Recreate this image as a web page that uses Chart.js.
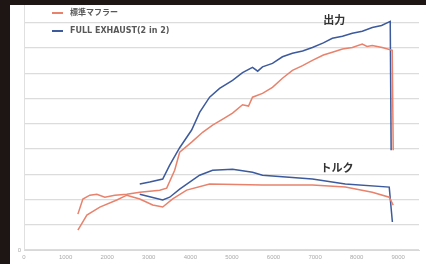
<!DOCTYPE html>
<html><head><meta charset="utf-8">
<script src="https://cdn.jsdelivr.net/npm/chart.js@4/dist/chart.umd.min.js"></script>
<style>
html,body{margin:0;padding:0;background:#1d1614;width:426px;height:264px;overflow:hidden}
#wrap{position:absolute;left:10px;top:5px;width:416px;height:259px;background:#fff}
canvas{display:block}
</style></head><body>
<div id="wrap"><canvas id="c" width="416" height="259"></canvas></div>
<script>
// ---- data ----
const seriesNames = ["標準マフラー", "FULL EXHAUST(2 in 2)"];
const xTickLabels = [0,1000,2000,3000,4000,5000,6000,7000,8000,9000];
const yTickLabels = [0];

// 標準マフラー 出力 (power)
const stdPowerRpm = [1296,1416,1584,1752,1944,2184,2472,2784,3264,3432,3624,3744,4032,4296,4536,4800,5016,5256,5400,5496,5736,5976,6216,6456,6700,6936,7200,7416,7660,7896,8136,8250,8376,8616,8856,8880];
const stdPowerVal = [14.2,20.2,21.7,22.1,20.9,21.7,22.1,22.9,23.7,24.5,31.6,38.7,42.7,46.6,49.4,52.0,54.2,57.5,57.0,60.5,62.0,64.4,68.0,71.1,73.0,75.1,77.2,78.3,79.6,80.2,81.5,80.6,81.0,80.2,79.1,39.5];
// 標準マフラー トルク (torque)
const stdTorqueRpm = [1296,1512,1824,2232,2472,2784,3096,3336,3576,3912,4464,5736,6936,7728,8376,8784,8880];
const stdTorqueVal = [7.9,13.8,17.0,19.8,21.7,20.2,17.8,17.0,20.2,23.7,26.1,25.7,25.7,24.9,22.9,20.9,17.8];
// FULL EXHAUST 出力
const fullPowerRpm = [2784,3024,3336,3504,3744,4032,4224,4464,4704,5016,5256,5496,5620,5736,5976,6216,6456,6700,6936,7200,7416,7660,7896,8136,8376,8600,8808,8830];
const fullPowerVal = [26.1,26.9,28.1,33.6,40.5,47.5,54.5,60.5,64.0,67.2,70.2,72.3,70.8,72.5,73.9,76.5,77.9,78.8,80.2,82.0,83.8,84.6,85.8,86.6,88.1,88.9,90.5,39.5];
// FULL EXHAUST トルク
const fullTorqueRpm = [2784,3072,3336,3504,3744,4224,4536,5016,5496,5736,6936,7728,8784,8860];
const fullTorqueVal = [22.1,20.9,19.8,20.9,24.1,29.6,31.6,32.0,30.8,29.6,28.1,26.1,24.9,11.1];

const RED = "#e8826c", BLUE = "#3c5a9c";
const pts = (xs, ys) => xs.map((x, i) => ({x, y: ys[i]}));

const legendPlugin = {
  id: "inlineLegend",
  afterDraw(chart) {
    const ctx = chart.ctx;
    ctx.save();
    const items = chart.data.datasets.filter(d => d.showInLegend);
    items.forEach((d, i) => {
      const y = 8 + i * 18;
      ctx.strokeStyle = d.borderColor; ctx.lineWidth = 2;
      ctx.beginPath(); ctx.moveTo(42, y); ctx.lineTo(53, y); ctx.stroke();
      ctx.fillStyle = "#595959"; ctx.font = "bold 8px 'DejaVu Sans', 'Noto Sans CJK JP', sans-serif";
      ctx.textBaseline = "middle"; ctx.fillText(d.label, 60, y);
    });
    const xs = chart.scales.x, ys = chart.scales.y;
    ctx.fillStyle = "#333"; ctx.font = "bold 11px 'Noto Sans CJK JP', sans-serif";
    ctx.textAlign = "center"; ctx.textBaseline = "middle";
    ctx.fillText("出力", xs.getPixelForValue(7460), ys.getPixelForValue(91));
    ctx.fillText("トルク", xs.getPixelForValue(7530), ys.getPixelForValue(32.5));
    ctx.restore();
  }
};

new Chart(document.getElementById("c"), {
  type: "line",
  data: { datasets: [
    {label: seriesNames[0], data: pts(stdPowerRpm, stdPowerVal), borderColor: RED, showInLegend: true},
    {label: seriesNames[1], data: pts(fullPowerRpm, fullPowerVal), borderColor: BLUE, showInLegend: true},
    {label: seriesNames[0] + " トルク", data: pts(stdTorqueRpm, stdTorqueVal), borderColor: RED},
    {label: seriesNames[1] + " トルク", data: pts(fullTorqueRpm, fullTorqueVal), borderColor: BLUE}
  ].map(d => Object.assign({borderWidth: 1.5, pointRadius: 0, tension: 0, fill: false}, d)) },
  options: {
    responsive: false, animation: false,
    layout: {padding: {left: 0, right: 7, top: 0, bottom: 0}},
    plugins: {legend: {display: false}, tooltip: {enabled: false}},
    scales: {
      x: {type: "linear", min: 0, max: 9500,
        afterBuildTicks: s => { s.ticks = xTickLabels.map(v => ({value: v})); },
        afterFit: s => { s.height = 14; s.paddingLeft = 0; s.paddingRight = 0; },
        ticks: {font: {size: 6}, color: "#aaa", padding: 2, maxRotation: 0, autoSkip: false,
          callback: v => String(v)},
        grid: {display: false, drawTicks: true, tickLength: 2, color: "#ccc"},
        border: {color: "#d8d8d8"}},
      y: {min: 0, max: 97,
        afterBuildTicks: s => { s.ticks = [0,10,20,30,40,50,60,70,80,90].map(v => ({value: v})); },
        afterFit: s => { s.width = 14; s.paddingTop = 0; s.paddingBottom = 0; },
        ticks: {font: {size: 6}, color: "#aaa", padding: 3,
          callback: v => yTickLabels.includes(v) ? String(v) : ""},
        grid: {color: "#dcdcdc", lineWidth: 1.3, drawTicks: false},
        border: {color: "#e0e0e0"}}
    }
  },
  plugins: [legendPlugin]
});
</script>
</body></html>
